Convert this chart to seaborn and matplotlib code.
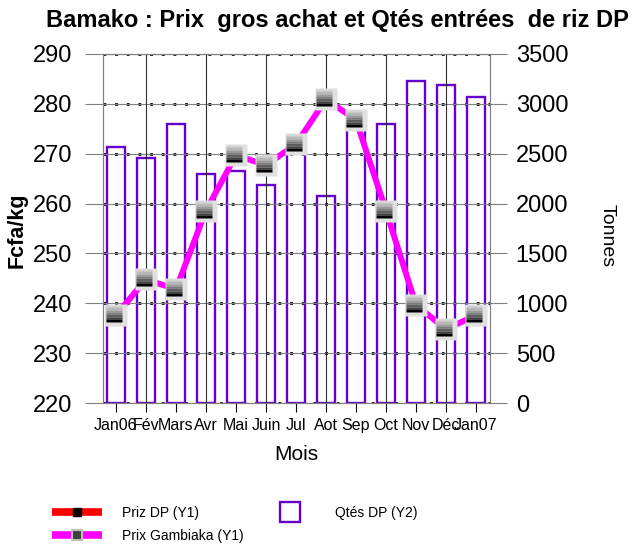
import numpy as np
import pandas as pd
import matplotlib
matplotlib.use("Agg")
import matplotlib.pyplot as plt
import seaborn as sns
from matplotlib.path import Path
from matplotlib.lines import Line2D

months = ["Jan06", "Fév", "Mars", "Avr", "Mai", "Juin", "Jul",
          "Aot", "Sep", "Oct", "Nov", "Déc", "Jan07"]
prix_gambiaka = [237.6, 244.8, 242.8, 258.6, 269.7, 267.7, 271.9,
                 280.9, 276.8, 258.6, 239.7, 234.8, 237.6]
qtes_dp = [2570, 2460, 2800, 2300, 2330, 2190, 2560,
           2080, 2850, 2800, 3230, 3190, 3070]
# Prix DP has no visible points in the chart (legend entry only)
prix_dp = [np.nan] * len(months)

y1_ticks = [220, 230, 240, 250, 260, 270, 280, 290]
y2_ticks = [0, 500, 1000, 1500, 2000, 2500, 3000, 3500]

PURPLE = "#6600cc"
MAGENTA = "#ff00ff"
GREY = "#808080"

sns.set_style("white")
plt.rcParams["font.family"] = ["Liberation Sans", "DejaVu Sans"]
plt.rcParams.update({"text.color": "black", "axes.labelcolor": "black",
                     "xtick.labelcolor": "black", "ytick.labelcolor": "black"})

df = pd.DataFrame({"mois": months, "idx": np.arange(len(months)),
                   "gambiaka": prix_gambiaka, "qtes": qtes_dp, "dp": prix_dp})

fig = plt.figure(figsize=(6.34, 5.46), dpi=100)
ax1 = fig.add_axes([0.1625, 0.2619, 0.6104, 0.6392])
ax2 = ax1.twinx()
ax1.set_zorder(ax2.get_zorder() + 1)
ax1.patch.set_visible(False)

# bars: quantities on the right axis
sns.barplot(data=df, x="mois", y="qtes", ax=ax2, fill=False, color=PURPLE,
            linewidth=1.7, width=0.6, errorbar=None)

# vertical grid every other month
for i in df["idx"][1::2]:
    ax1.axvline(i, color="#303030", lw=0.8, zorder=0.6)

# price lines on the left axis
sns.lineplot(data=df, x="idx", y="dp", ax=ax1, color="red", lw=4.3, legend=False)
sns.lineplot(data=df, x="idx", y="gambiaka", ax=ax1, color=MAGENTA, lw=4.3,
             legend=False)


def band(x0, x1, y0, y1):
    verts = [(-1, -1), (1, 1), (x0, y0), (x1, y0), (x1, y1), (x0, y1), (x0, y0)]
    codes = [Path.MOVETO, Path.MOVETO, Path.MOVETO, Path.LINETO,
             Path.LINETO, Path.LINETO, Path.CLOSEPOLY]
    return Path(verts, codes)


ms = 15.5
ax1.plot(df["idx"], df["gambiaka"], ls="none", marker="s", ms=ms,
         mfc="#e0e0e0", mec="none", zorder=5)
shades = ["#d4d4d4", "#b8b8b8", "#9a9a9a", "#7c7c7c", "#5e5e5e", "#404040"]
edges = np.linspace(0.94, -0.37, len(shades) + 1)
for i, c in enumerate(shades):
    ax1.plot(df["idx"], df["gambiaka"], ls="none",
             marker=band(-0.94, 0.55, edges[i + 1], edges[i]), ms=ms,
             mfc=c, mec="none", zorder=6)
ax1.plot(df["idx"], df["gambiaka"], ls="none",
         marker=band(-0.94, 0.55, -0.63, -0.37), ms=ms,
         mfc="black", mec="none", zorder=7)

# axes ranges and ticks
ax1.set_ylim(220, 290)
ax1.set_yticks(y1_ticks)
ax2.set_ylim(0, 3500)
ax2.set_yticks(y2_ticks)
ax1.set_xlim(-0.43, 12.47)
ax1.set_xticks(np.arange(len(months)))
ax1.set_xticklabels(months)

ax1.tick_params(axis="y", length=13, width=0.8, color=GREY, pad=9, labelsize=17,
                labelcolor="black")
ax2.tick_params(axis="y", length=12.5, width=0.8, color=GREY, pad=6, labelsize=17,
                labelcolor="black")
ax1.tick_params(axis="x", length=6.5, width=0.8, color="black",
                direction="out", pad=4, labelsize=11.5, labelcolor="black")
ax1.tick_params(left=True, bottom=True)
ax2.tick_params(right=True)

# grid: grey lines + dotted overlay
ax1.grid(axis="y", which="major", color=GREY, lw=0.8)
ax2.grid(axis="y", color="black", lw=2.0, linestyle=(0, (1, 3.2)))
ax2.set_axisbelow(True)

for ax in (ax1, ax2):
    for s in ax.spines.values():
        s.set_color(GREY)
        s.set_linewidth(0.8)

ax1.set_ylabel("Fcfa/kg", fontsize=15.5, fontweight="bold", color="black")
ax1.yaxis.set_label_coords(-0.196, 0.496)
ax2.set_ylabel("Tonnes", fontsize=14, rotation=-90, va="center", color="black")
ax2.yaxis.set_label_coords(1.302, 0.481)
ax1.set_xlabel("Mois", fontsize=15, labelpad=9, color="black")
ax2.set_xlabel("")

fig.text(0.5315, 1 - 21 / 546, "Bamako : Prix  gros achat et Qtés entrées  de riz DP",
         fontsize=17, fontweight="bold", ha="center", va="center", color="black")

handles = [
    Line2D([], [], color="red", lw=5.5, solid_capstyle="butt", marker="s", ms=6,
           mfc="black", mec="black"),
    Line2D([], [], color=MAGENTA, lw=5.5, solid_capstyle="butt", marker="s", ms=7,
           mfc="#404040", mec="#c0c0c0", mew=1.5),
    Line2D([], [], ls="none", marker="s", ms=14.5, mfc="none", mec=PURPLE, mew=1.7),
]
labels = ["Priz DP (Y1)", "Prix Gambiaka (Y1)", "Qtés DP (Y2)"]
leg = fig.legend(handles, labels, loc="upper left", bbox_to_anchor=(52 / 634, 0.074),
                 ncol=2, frameon=False, fontsize=10, handlelength=3.6,
                 handletextpad=1.45, columnspacing=1.55, borderpad=0,
                 borderaxespad=0, labelspacing=0.69)
for t in leg.get_texts():
    t.set_color("black")

fig.savefig("out.png", dpi=100)
